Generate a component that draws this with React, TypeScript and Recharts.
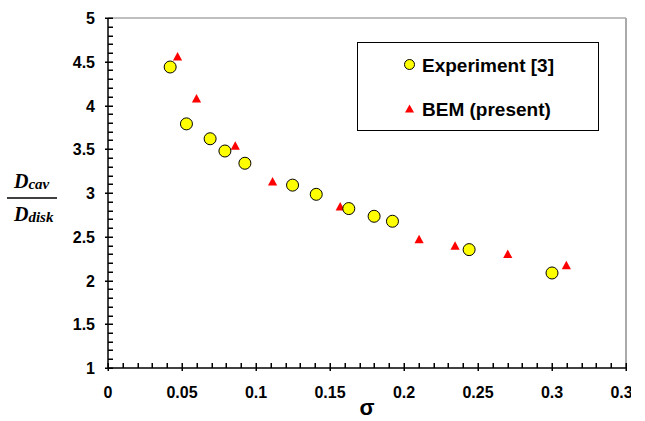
import { ScatterChart, Scatter, XAxis, YAxis, ReferenceLine, Legend } from 'recharts'

// Experiment [3]
const expSigma = [0.042, 0.053, 0.069, 0.079, 0.0925, 0.1247, 0.1407, 0.1627, 0.1798, 0.1922, 0.244, 0.3]
const expRatio = [4.44, 3.79, 3.62, 3.48, 3.34, 3.09, 2.985, 2.822, 2.734, 2.677, 2.353, 2.086]

// BEM (present)
const bemSigma = [0.047, 0.0598, 0.086, 0.1112, 0.1569, 0.2102, 0.2345, 0.2701, 0.3097]
const bemRatio = [4.554, 4.074, 3.534, 3.126, 2.84, 2.467, 2.391, 2.296, 2.17]

const xMajorTicks = [0, 0.05, 0.1, 0.15, 0.2, 0.25, 0.3, 0.35]
const yMajorTicks = [1, 1.5, 2, 2.5, 3, 3.5, 4, 4.5, 5]

const expData = expSigma.map((s, i) => ({ sigma: s, ratio: expRatio[i] }))
const bemData = bemSigma.map((s, i) => ({ sigma: s, ratio: bemRatio[i] }))

// minor ticks every 0.01 on x and 0.1 on y
const xTicks = Array.from({ length: 36 }, (_, i) => i / 100)
const yTicks = Array.from({ length: 41 }, (_, i) => (10 + i) / 10)

const SANS = '"Liberation Sans", Arial, sans-serif'
const SERIF = '"Liberation Serif", "Times New Roman", serif'

const isMajor = (v: number, list: number[]) => list.some(m => Math.abs(m - v) < 1e-6)

function XTick(props: any) {
  const { x, y, payload } = props
  const v = payload.value as number
  const major = isMajor(v, xMajorTicks)
  const px = Math.round(x)
  return (
    <g>
      <rect x={px - 0.5} y={y - 5} width={1.5} height={major ? 8 : 5} fill="#000" />
      {major && (
        <text x={x} y={y + 30} textAnchor="middle" fontFamily={SANS} fontWeight="bold" fontSize={16} fill="#000"
          clipPath="url(#xlabelclip)">
          {String(v)}
        </text>
      )}
    </g>
  )
}

function YTick(props: any) {
  const { x, y, payload } = props
  const v = payload.value as number
  const major = isMajor(v, yMajorTicks)
  const py = Math.round(y)
  return (
    <g>
      <rect x={x - (major ? 3 : 0)} y={py - 0.5} width={major ? 8 : 5} height={1.5} fill="#000" />
      {major && (
        <text x={x - 13} y={y + 6} textAnchor="end" fontFamily={SANS} fontWeight="bold" fontSize={16} fill="#000">
          {String(v)}
        </text>
      )}
    </g>
  )
}

function YLabel(props: any) {
  const { viewBox } = props
  const cy = viewBox.y + viewBox.height / 2
  const left = viewBox.x + 14
  return (
    <g fontFamily={SERIF} fontStyle="italic" fontWeight="bold" fill="#000">
      <text x={left} y={cy - 5} fontSize={20}>
        D<tspan fontSize={15} dy={1}>cav</tspan>
      </text>
      <line x1={viewBox.x + 7} x2={viewBox.x + 57} y1={cy + 5} y2={cy + 5} stroke="#000" strokeWidth={1.3} />
      <text x={left} y={cy + 28} fontSize={20}>
        D<tspan fontSize={15} dy={1}>disk</tspan>
      </text>
    </g>
  )
}

const circleShape = (p: any) => (
  <circle cx={p.cx} cy={p.cy} r={6} fill="#ffff00" stroke="#000" strokeWidth={1} />
)

const triangleShape = (p: any) => (
  <polygon
    points={`${p.cx},${p.cy - 5} ${p.cx - 4.6},${p.cy + 3.5} ${p.cx + 4.6},${p.cy + 3.5}`}
    fill="#ff0000"
  />
)

function LegendBox(props: any) {
  const entries = [...(props.payload || [])].reverse()
  return (
    <svg width={242} height={89} style={{ display: 'block' }}>
      <rect x={0.5} y={0.5} width={241} height={88} fill="#fff" stroke="#000" strokeWidth={1} />
      {entries.map((e: any, i: number) => {
        const cy = 22.5 + i * 44.5
        return (
          <g key={e.value}>
            {e.type === 'circle' ? (
              <circle cx={52.5} cy={cy} r={5} fill="#ffff00" stroke="#000" strokeWidth={1} />
            ) : (
              <polygon points={`52.5,${cy - 4.5} 48,${cy + 3.5} 57,${cy + 3.5}`} fill="#ff0000" />
            )}
            <text x={65} y={cy + 7} fontFamily={SANS} fontWeight="bold" fontSize={19} fill="#000">
              {e.value}
            </text>
          </g>
        )
      })}
    </svg>
  )
}

export default function App() {
  return (
    <div style={{ position: 'absolute', left: 0, top: 0, background: '#fff' }}>
      <svg width={0} height={0} style={{ position: 'absolute' }}>
        <defs>
          <clipPath id="xlabelclip" clipPathUnits="userSpaceOnUse">
            <rect x={0} y={0} width={631} height={421} />
          </clipPath>
        </defs>
      </svg>
      <ScatterChart width={645} height={421} margin={{ top: 18, right: 19, bottom: 0, left: 0 }}>
        <XAxis
          type="number"
          dataKey="sigma"
          domain={[0, 0.35]}
          ticks={xTicks}
          interval={0}
          tick={XTick}
          tickLine={false}
          tickSize={0}
          tickMargin={0}
          height={53}
          axisLine={{ stroke: '#000', strokeWidth: 1.5 }}
          allowDataOverflow
          label={{ value: 'σ', position: 'insideBottom', offset: 6, style: { fontSize: 22, fontWeight: 'bold', fill: '#000', fontFamily: SANS } }}
        />
        <YAxis
          type="number"
          dataKey="ratio"
          domain={[1, 5]}
          ticks={yTicks}
          interval={0}
          tick={YTick}
          tickLine={false}
          tickSize={0}
          tickMargin={0}
          width={108}
          axisLine={{ stroke: '#000', strokeWidth: 1.5 }}
          allowDataOverflow
          label={{ content: YLabel }}
        />
        <ReferenceLine y={5} stroke="#aaaaaa" strokeWidth={1.5} />
        <ReferenceLine x={0.35} stroke="#aaaaaa" strokeWidth={2} />
        <Legend
          layout="horizontal"
          verticalAlign="middle"
          align="center"
          content={LegendBox}
          wrapperStyle={{ top: 42, left: 357, width: 242, height: 89 }}
        />
        <Scatter name="BEM (present)" data={bemData} legendType="triangle" shape={triangleShape} isAnimationActive={false} />
        <Scatter name="Experiment [3]" data={expData} legendType="circle" shape={circleShape} isAnimationActive={false} />
      </ScatterChart>
    </div>
  )
}
